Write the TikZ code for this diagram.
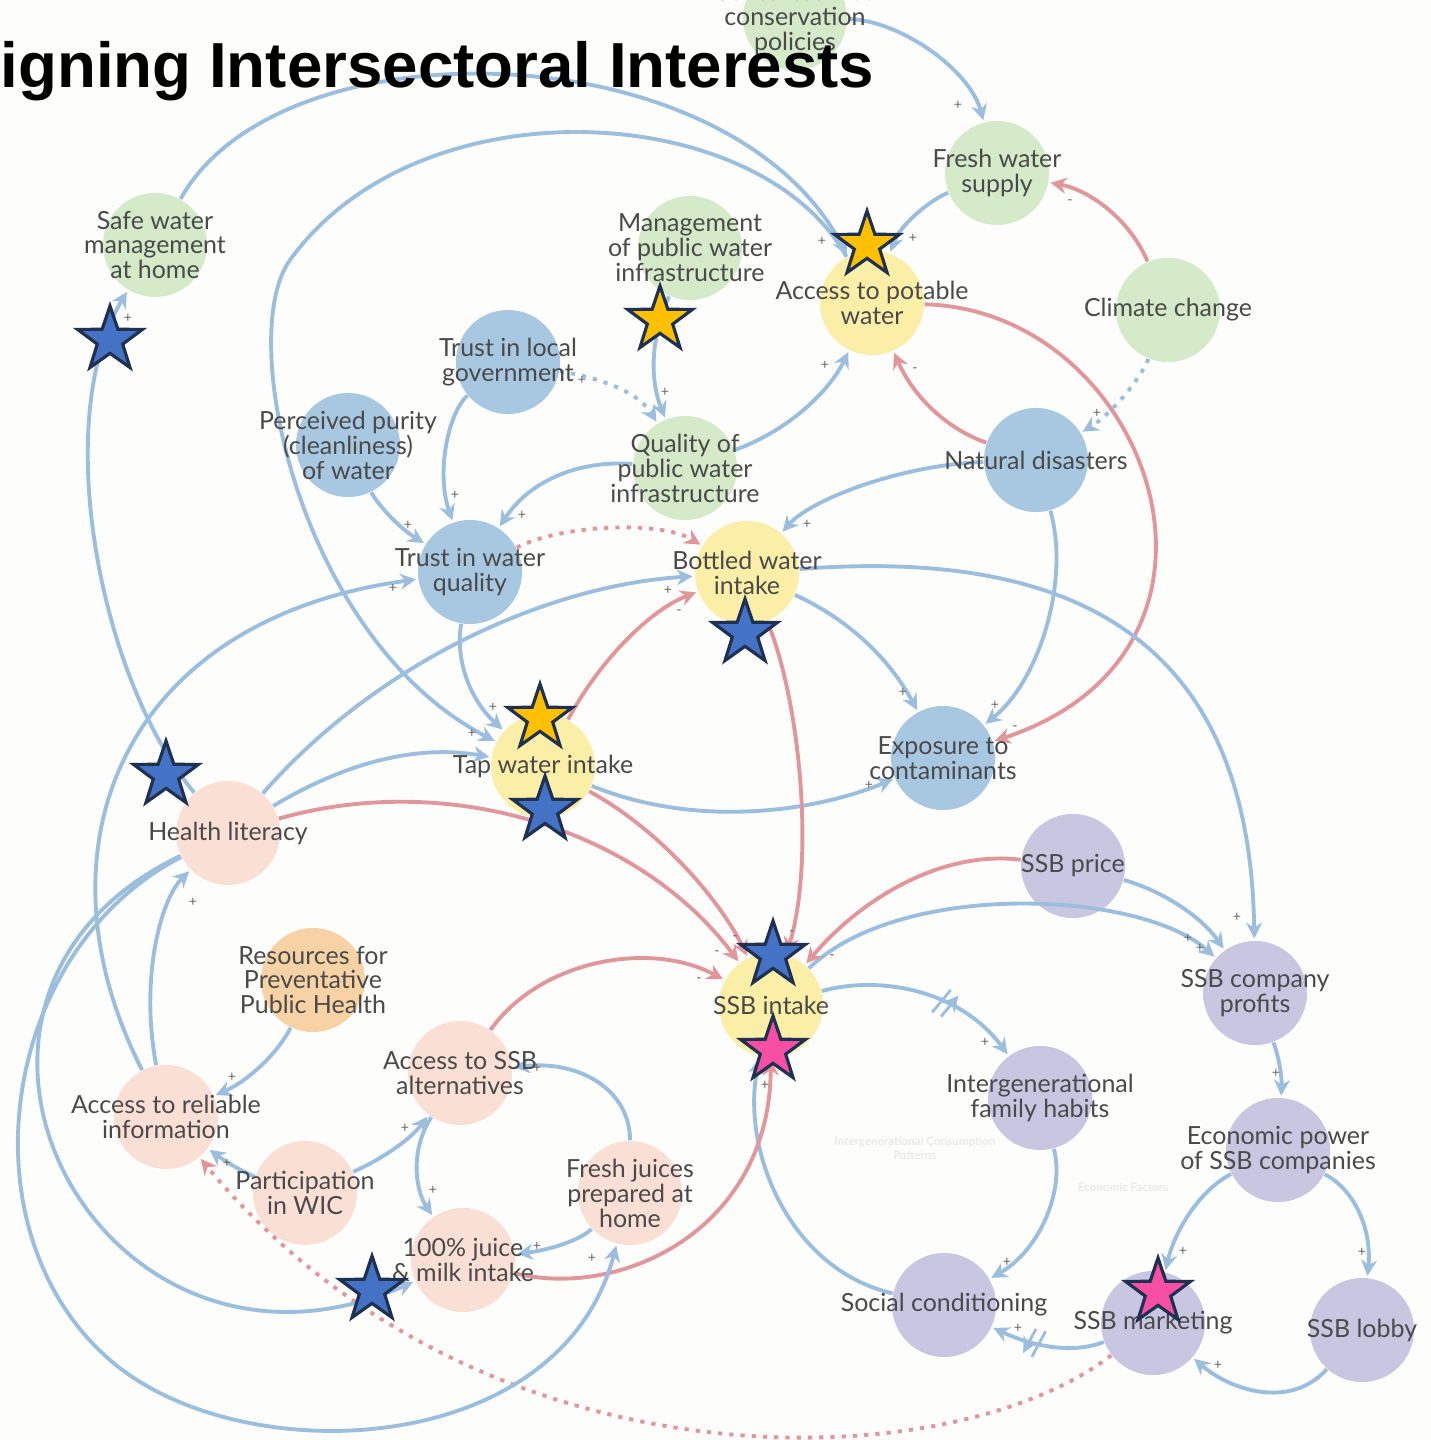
\documentclass[tikz,border=0pt]{standalone}
\usepackage{fontspec}
\newfontfamily\cldfont{Lato}
\newfontfamily\headfont{Liberation Sans}
\usetikzlibrary{shapes.geometric,arrows.meta,decorations.markings}

\definecolor{bgpaper}{HTML}{FDFDFB}
\definecolor{cgreen}{HTML}{D5EAC9}
\definecolor{cyellow}{HTML}{FBEEA6}
\definecolor{cblue}{HTML}{A8C8E2}
\definecolor{cpeach}{HTML}{FAE0D4}
\definecolor{corange}{HTML}{F7D2A5}
\definecolor{cpurple}{HTML}{C8C6E1}
\definecolor{linkblue}{HTML}{9BBEDE}
\definecolor{linkred}{HTML}{E0969B}
\definecolor{vartext}{HTML}{4A4A4A}
\definecolor{signgray}{HTML}{666666}
\definecolor{faintgray}{HTML}{EAEAEA}
\definecolor{starblue}{HTML}{4472C4}
\definecolor{staryellow}{HTML}{FFC000}
\definecolor{starpink}{HTML}{F74FA3}
\definecolor{starline}{HTML}{1F3050}

\tikzset{
  cldvar/.style={circle, minimum size=1.04cm, inner sep=0pt},
  vtext/.style={font=\cldfont\fontsize{7.1}{7.1}\selectfont, text=vartext, align=center, inner sep=0pt},
  poslink/.style={draw=linkblue, line width=1.1pt, -{Stealth[length=4.5pt,width=4.5pt]}, shorten >=0.5pt},
  neglink/.style={poslink, draw=linkred},
  dotlink/.style={dash pattern=on 1.2pt off 2pt},
  polarity/.style={font=\cldfont\fontsize{4}{4}\selectfont, text=signgray, inner sep=0pt},
  faint/.style={font=\cldfont\bfseries\fontsize{3.3}{4}\selectfont, text=faintgray, align=center, inner sep=0pt},
  delaymark/.style={postaction={decorate, decoration={markings, mark=at position #1 with {\draw[linkblue, line width=0.8pt, solid] (-2pt,-4pt) -- (0pt,4pt) (0.8pt,-4pt) -- (2.8pt,4pt);}}}},
  cldstar/.style={star, star points=5, star point ratio=2.55, minimum size=0.68cm, inner sep=0pt, draw=starline, line width=0.9pt},
}

% one variable: circle first, label later
\newcommand{\cldcircle}[3]{\node[cldvar, fill=#2] (#1) at (#3) {};}
\newcommand{\cldlabel}[2]{\node[vtext] (#1-lbl) at (#1) {#2};}

\begin{document}
\begin{tikzpicture}[x=0.01cm, y=-0.01cm]
    \useasboundingbox (0,0) rectangle (1431,1440);
    \clip (0,0) rectangle (1431,1440);
    \fill[bgpaper] (0,0) rectangle (1431,1440);

    % water side
    \cldcircle{cons}{cgreen}{795,18}
    \cldcircle{fresh}{cgreen}{997,173}
    \cldcircle{safe}{cgreen}{155,245}
    \cldcircle{mgmt}{cgreen}{690,248}
    \cldcircle{access}{cyellow}{872,303}
    \cldcircle{climate}{cgreen}{1168,310}
    \cldcircle{trustgov}{cblue}{508,362}
    \cldcircle{purity}{cblue}{348,445}
    \cldcircle{quality}{cgreen}{685,468}
    \cldcircle{natural}{cblue}{1036,460}
    \cldcircle{trustwq}{cblue}{470,572}
    \cldcircle{bottled}{cyellow}{747,573}
    \cldcircle{exposure}{cblue}{943,758}
    \cldcircle{tap}{cyellow}{543,766}
    % health and SSB side
    \cldcircle{health}{cpeach}{228,833}
    \cldcircle{price}{cpurple}{1073,866}
    \cldcircle{profits}{cpurple}{1255,993}
    \cldcircle{resources}{corange}{313,980}
    \cldcircle{ssb}{cyellow}{771,1005}
    \cldcircle{altern}{cpeach}{460,1073}
    \cldcircle{reliable}{cpeach}{166,1117}
    \cldcircle{intergen}{cpurple}{1040,1098}
    \cldcircle{econ}{cpurple}{1278,1150}
    \cldcircle{wic}{cpeach}{305,1193}
    \cldcircle{fjuice}{cpeach}{630,1193}
    \cldcircle{juice}{cpeach}{463,1260}
    \cldcircle{social}{cpurple}{944,1305}
    \cldcircle{marketing}{cpurple}{1153,1323}
    \cldcircle{lobby}{cpurple}{1362,1330}

    \node[faint] (intergenzone) at (915,1148) {Intergenerational Consumption\\Patterns};
    \node[faint] (econzone) at (1123,1187) {Economic Factors};

    % links
    \draw[poslink] (cons) .. controls (900,20) and (970,70) .. (fresh);
    \draw[poslink] (fresh) .. controls (930,200) and (900,225) .. (access);
    \draw[poslink] (safe) .. controls (280,20) and (730,30) .. (access);
    \draw[poslink] (access) .. controls (760,100) and (420,80) .. (290,260) .. controls (235,336) and (300,640) .. (tap);
    \draw[poslink] (health) .. controls (100,680) and (50,420) .. (safe);
    \draw[poslink] (reliable) .. controls (30,850) and (120,620) .. (trustwq);
    \draw[poslink] (reliable) .. controls (140,980) and (160,900) .. (health);
    \draw[poslink] (health) .. controls (380,660) and (550,585) .. (bottled);
    \draw[poslink] (health) .. controls (350,760) and (420,745) .. (tap);
    \draw[neglink] (health) .. controls (450,770) and (640,830) .. (ssb);
    \draw[poslink] (trustwq) .. controls (455,660) and (470,700) .. (tap);
    \draw[poslink] (trustgov) .. controls (450,410) and (435,470) .. (trustwq);
    \draw[poslink] (purity) .. controls (375,500) and (395,525) .. (trustwq);
    \draw[poslink] (quality) .. controls (580,460) and (530,480) .. (trustwq);
    \draw[poslink, dotlink] (trustgov) .. controls (610,380) and (640,395) .. (quality);
    \draw[poslink] (mgmt) .. controls (650,340) and (650,380) .. (quality);
    \draw[poslink] (quality) .. controls (790,430) and (830,390) .. (access);
    \draw[neglink] (natural) .. controls (950,430) and (915,400) .. (access);
    \draw[neglink] (climate) .. controls (1130,220) and (1090,190) .. (fresh);
    \draw[poslink, dotlink] (climate) .. controls (1140,380) and (1110,415) .. (natural);
    \draw[poslink] (natural) .. controls (900,465) and (810,500) .. (bottled);
    \draw[poslink] (natural) .. controls (1070,580) and (1040,680) .. (exposure);
    \draw[neglink] (access) .. controls (1150,310) and (1270,650) .. (exposure);
    \draw[poslink] (bottled) .. controls (850,620) and (890,660) .. (exposure);
    \draw[poslink] (tap) .. controls (700,830) and (820,810) .. (exposure);
    \draw[neglink] (tap) .. controls (600,660) and (650,610) .. (bottled);
    \draw[neglink, dotlink] (trustwq) .. controls (560,525) and (660,520) .. (bottled);
    \draw[neglink] (tap) .. controls (660,830) and (720,900) .. (ssb);
    \draw[neglink] (bottled) .. controls (800,700) and (815,860) .. (ssb);
    \draw[poslink] (bottled) .. controls (1050,550) and (1250,620) .. (profits);
    \draw[poslink] (price) .. controls (1160,890) and (1200,915) .. (profits);
    \draw[poslink] (ssb) .. controls (900,880) and (1140,890) .. (profits);
    \draw[neglink] (price) .. controls (940,850) and (860,900) .. (ssb);
    \draw[poslink, delaymark=0.6] (ssb) .. controls (880,975) and (960,990) .. (intergen);
    \draw[poslink] (intergen) .. controls (1065,1190) and (1040,1250) .. (social);
    \draw[poslink] (social) .. controls (790,1270) and (740,1150) .. (ssb);
    \draw[poslink, delaymark=0.6] (marketing) .. controls (1070,1355) and (1030,1345) .. (social);
    \draw[poslink] (profits) .. controls (1280,1060) and (1282,1080) .. (econ);
    \draw[poslink] (econ) .. controls (1200,1190) and (1175,1230) .. (marketing);
    \draw[poslink] (econ) .. controls (1355,1190) and (1372,1230) .. (lobby);
    \draw[poslink] (lobby) .. controls (1290,1410) and (1230,1390) .. (marketing);
    \draw[neglink, dotlink] (marketing) .. controls (950,1480) and (480,1496) .. (reliable);
    \draw[poslink] (resources) .. controls (280,1050) and (250,1080) .. (reliable);
    \draw[poslink] (wic) .. controls (250,1175) and (230,1165) .. (reliable);
    \draw[poslink] (wic) .. controls (380,1160) and (410,1140) .. (altern);
    \draw[poslink] (altern) .. controls (410,1150) and (415,1190) .. (juice);
    \draw[poslink] (fjuice) .. controls (580,1240) and (550,1250) .. (juice);
    \draw[poslink] (fjuice) .. controls (630,1090) and (580,1060) .. (altern);
    \draw[neglink] (altern) .. controls (540,960) and (650,940) .. (ssb);
    \draw[neglink] (juice) .. controls (620,1300) and (770,1230) .. (ssb);
    \draw[poslink] (health) .. controls (-120,1000) and (100,1420) .. (juice);
    \draw[poslink] (health) .. controls (0,950) and (-40,1230) .. (110,1360) .. controls (240,1473) and (560,1460) .. (fjuice);

    % labels
    \cldlabel{cons}{Contextualized\\conservation\\policies}
    \cldlabel{fresh}{Fresh water\\supply}
    \cldlabel{safe}{Safe water\\management\\at home}
    \cldlabel{mgmt}{Management\\of public water\\infrastructure}
    \cldlabel{access}{Access to potable\\water}
    \cldlabel{climate}{Climate change}
    \cldlabel{trustgov}{Trust in local\\government}
    \cldlabel{purity}{Perceived purity\\(cleanliness)\\of water}
    \cldlabel{quality}{Quality of\\public water\\infrastructure}
    \cldlabel{natural}{Natural disasters}
    \cldlabel{trustwq}{Trust in water\\quality}
    \cldlabel{bottled}{Bottled water\\intake}
    \cldlabel{exposure}{Exposure to\\contaminants}
    \cldlabel{tap}{Tap water intake}
    \cldlabel{health}{Health literacy}
    \cldlabel{price}{SSB price}
    \cldlabel{profits}{SSB company\\profits}
    \cldlabel{resources}{Resources for\\Preventative\\Public Health}
    \cldlabel{ssb}{SSB intake}
    \cldlabel{altern}{Access to SSB\\alternatives}
    \cldlabel{reliable}{Access to reliable\\information}
    \cldlabel{intergen}{Intergenerational\\family habits}
    \cldlabel{econ}{Economic power\\of SSB companies}
    \cldlabel{wic}{Participation\\in WIC}
    \cldlabel{fjuice}{Fresh juices\\prepared at\\home}
    \cldlabel{juice}{100\% juice\\\& milk intake}
    \cldlabel{social}{Social conditioning}
    \cldlabel{marketing}{SSB marketing}
    \cldlabel{lobby}{SSB lobby}

    % polarities
    \foreach \px/\py [count=\i] in {958/105, 913/238, 822/241, 128/318, 665/392, 582/380, 825/365, 1097/413,
        455/495, 408/525, 522/515, 807/524, 393/588, 668/590, 903/692, 995/705, 493/707, 472/733, 869/785,
        193/902, 1237/917, 1188/938, 1200/948, 985/1042, 1276/1073, 232/1077, 537/1068, 765/1085,
        405/1128, 227/1163, 433/1190, 537/1246, 592/1258, 1183/1251, 1362/1252, 1007/1262, 1018/1328, 1218/1365}
        \node[polarity] (plus\i) at (\px,\py) {+};
    \foreach \px/\py [count=\i] in {1070/202, 915/370, 1015/728, 679/612, 735/938, 717/953, 792/933, 832/957, 699/980}
        \node[polarity] (minus\i) at (\px,\py) {-};

    % stars
    \foreach \px/\py/\col [count=\i] in {110/340/starblue, 166/775/starblue, 867/245/staryellow, 660/320/staryellow,
        540/718/staryellow, 745/633/starblue, 545/810/starblue, 773/955/starblue, 773/1050/starpink,
        372/1290/starblue, 1158/1292/starpink}
        \node[cldstar, fill=\col] (star\i) at (\px,\py) {};

    \node[anchor=base west, inner sep=0pt, font=\headfont\bfseries\fontsize{18.1}{20}\selectfont] (title) at (0,88) {igning Intersectoral Interests};
\end{tikzpicture}
\end{document}
